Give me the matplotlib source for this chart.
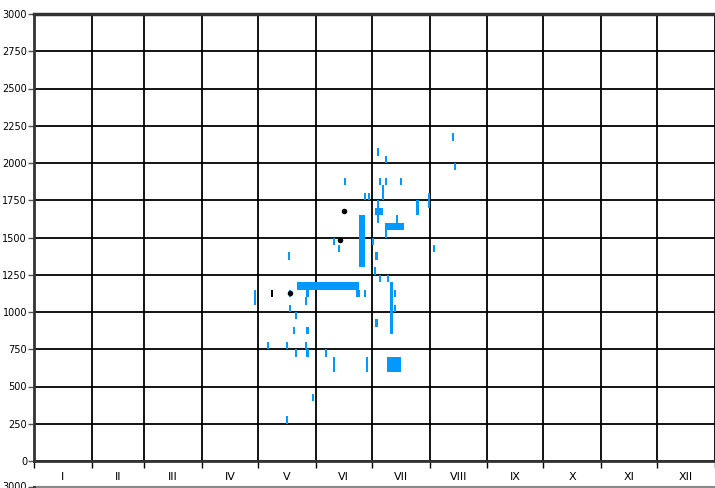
import matplotlib
matplotlib.use("Agg")
import matplotlib.pyplot as plt

# months (roman numerals) and day-of-year boundaries
months = ["I", "II", "III", "IV", "V", "VI", "VII", "VIII", "IX", "X", "XI", "XII"]
month_edges = [0, 31, 59, 90, 120, 151, 181, 212, 243, 273, 304, 334, 365]

# blue records: start day, duration (days), altitude low, altitude high
rec_day = [118, 136.5, 136.5, 141, 146, 145, 172.5, 177, 182, 185, 189, 191,
           193, 193, 183, 140, 139, 146, 125, 135, 145, 140, 146, 156, 160,
           178, 189, 149, 135, 136, 174, 184, 188, 224, 225, 166, 185, 188,
           186.5, 196, 177, 179, 211, 205, 182.7, 184, 194, 188, 188, 160,
           163, 181, 183, 214]
rec_len = [1, 1, 1, 33, 1, 1, 2, 1, 1, 1, 1, 1,
           1, 1, 1, 1, 1, 1, 1, 1, 1, 1, 1, 1, 1,
           1, 7.5, 1, 1, 1, 3, 1, 1, 1, 1, 1, 1, 1,
           1, 1, 1, 1, 1, 1, 4.3, 1, 1, 10, 1, 1,
           1, 1, 1, 1]
rec_lo = [1050, 1100, 1000, 1150, 1100, 1050, 1100, 1100, 1250, 1200, 1200, 850,
          1100, 1000, 900, 950, 850, 850, 750, 750, 750, 700, 700, 700, 600,
          600, 600, 400, 250, 1350, 1300, 2050, 2000, 2150, 1950, 1850, 1850, 1850,
          1750, 1850, 1750, 1750, 1700, 1650, 1650, 1600, 1600, 1550, 1500, 1450,
          1400, 1450, 1350, 1400]
rec_hi = [1150, 1150, 1050, 1200, 1150, 1100, 1150, 1150, 1300, 1250, 1250, 1200,
          1150, 1050, 950, 1000, 900, 900, 800, 800, 800, 750, 750, 750, 700,
          700, 700, 450, 300, 1400, 1650, 2100, 2050, 2200, 2000, 1900, 1900, 1900,
          1850, 1900, 1800, 1800, 1800, 1750, 1700, 1750, 1650, 1600, 1550, 1500,
          1450, 1500, 1400, 1450]

# black records
blk_day = [127]
blk_lo = [1100]
blk_hi = [1150]

# single point records
pt_day = [137, 164, 166]
pt_alt = [1130, 1480, 1680]

blue = "#0099ff"

fig = plt.figure(figsize=(7.15, 4.88), dpi=100)
ax = fig.add_axes([34 / 715, 1 - 461 / 488, 1 - 34 / 715, (461 - 14) / 488])

# widen the one-day records a little so they do not collapse to 1 px
widths = [w + 0.15 for w in rec_len]
ax.bar(rec_day, [h - l for l, h in zip(rec_lo, rec_hi)], width=widths,
       bottom=rec_lo, align="edge", color=blue, linewidth=0, zorder=3)
ax.bar(blk_day, [h - l for l, h in zip(blk_lo, blk_hi)], width=1.15,
       bottom=blk_lo, align="edge", color="black", linewidth=0, zorder=3)
ax.scatter(pt_day, pt_alt, s=16, color="black", linewidths=0, zorder=4)

ax.set_xlim(0, 365)
ax.set_ylim(0, 3000)
ax.set_yticks(range(0, 3001, 250))
ax.set_xticks(month_edges)
ax.set_xticklabels([])
ax.set_xticks([(a + b) / 2 for a, b in zip(month_edges[:-1], month_edges[1:])], minor=True)
ax.set_xticklabels(months, minor=True, fontsize=8)
ax.tick_params(axis="x", which="minor", length=0, pad=8)
ax.tick_params(axis="x", which="major", length=5, width=1, color="black")
ax.tick_params(axis="y", length=4, width=1, color="#555555", labelsize=7, pad=1)
ax.grid(True, color="black", linewidth=1.3, zorder=1)
ax.set_axisbelow(True)

for s in ["top", "right"]:
    ax.spines[s].set_visible(False)
for s in ["left", "bottom"]:
    ax.spines[s].set_color("#333333")
    ax.spines[s].set_linewidth(2)
ax.axhline(3000, color="#333333", linewidth=2.5, zorder=2, clip_on=False)

# top of the next panel, cut off by the image edge
ax2 = fig.add_axes([34 / 715, -0.5, 1 - 34 / 715, 0.5 + 1.5 / 488])
ax2.set_xlim(0, 365)
ax2.set_ylim(0, 3000)
ax2.set_yticks([3000])
ax2.set_xticks(month_edges)
ax2.set_xticklabels([])
ax2.tick_params(axis="y", length=4, width=1, color="#555555", labelsize=7, pad=1)
ax2.grid(True, color="black", linewidth=1.3)
for s in ["top", "right"]:
    ax2.spines[s].set_visible(False)
ax2.spines["left"].set_color("#333333")
ax2.spines["left"].set_linewidth(2)
ax2.axhline(3000, color="#888888", linewidth=1.5, clip_on=False)

fig.savefig("out.png", dpi=100)
